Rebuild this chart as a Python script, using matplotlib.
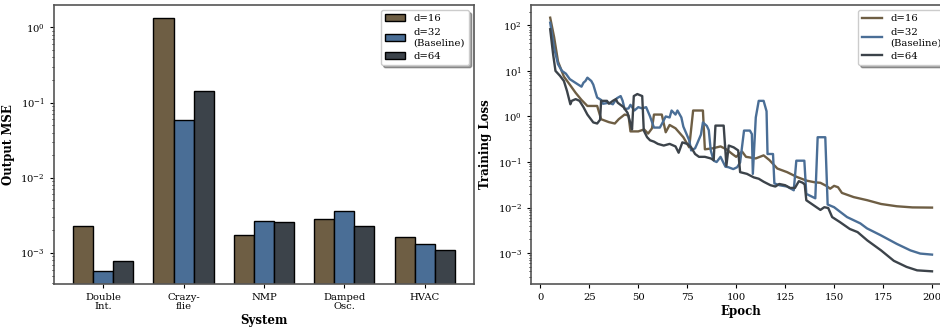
import numpy as np
import matplotlib

matplotlib.use("Agg")
import matplotlib.pyplot as plt

plt.rcParams["font.family"] = ["DejaVu Serif"]
plt.rcParams["mathtext.fontset"] = "dejavuserif"

# ---- left panel: output MSE per system ----
systems = ["Double\nInt.", "Crazy-\nflie", "NMP", "Damped\nOsc.", "HVAC"]
mse_d16 = [2.3e-3, 1.35, 1.72e-3, 2.83e-3, 1.63e-3]
mse_d32 = [5.7e-4, 0.058, 2.64e-3, 3.58e-3, 1.31e-3]
mse_d64 = [7.8e-4, 0.141, 2.56e-3, 2.26e-3, 1.09e-3]

# ---- right panel: training loss curves ----
ep_d16 = [5, 7, 9, 12, 15, 18, 21, 24, 29, 31, 35, 38, 40, 43, 45, 46, 50, 53,
          55, 57, 58, 62, 64, 66, 69, 73, 76, 78, 83, 84, 88, 92, 95, 98, 100,
          103, 105, 110, 114, 117, 121, 126, 131, 136, 140, 143, 146, 148, 150,
          152, 154, 160, 167, 174, 182, 190, 200]
loss_d16 = [147, 55, 16, 7.5, 5.0, 3.3, 2.3, 1.7, 1.7, 0.87, 0.75, 0.70, 0.87,
            1.1, 1.05, 0.47, 0.47, 0.52, 0.42, 0.55, 1.1, 1.1, 0.45, 0.65,
            0.55, 0.35, 0.21, 1.35, 1.35, 0.19, 0.20, 0.22, 0.19, 0.15, 0.13,
            0.17, 0.13, 0.12, 0.14, 0.11, 0.072, 0.060, 0.047, 0.039, 0.036,
            0.035, 0.030, 0.026, 0.030, 0.028, 0.021, 0.017, 0.0145, 0.0120,
            0.0107, 0.0101, 0.0100]

ep_d32 = [5, 7, 9, 11, 13, 15, 17, 19, 21, 22, 23, 24, 26, 27, 28, 29, 31, 32,
          35, 37, 39, 41, 42, 43, 45, 46, 48, 50, 52, 54, 56, 58, 61, 62, 64,
          66, 67, 69, 70, 72, 73, 76, 77, 79, 80, 82, 83, 85, 86, 87, 88.5, 90,
          92, 94.5, 96, 98.5, 100.5, 102, 104, 107, 108, 108.5, 110, 111.5,
          114, 115.5, 116, 118.8, 119.5, 122, 126, 129.4, 130.7, 134.8, 135.8,
          140.4, 141.6, 145.5, 146.7, 150, 156.6, 163.4, 166.8, 173.6, 182,
          189, 194, 200]
loss_d32 = [114, 32, 14, 10, 8.7, 6.6, 5.8, 5.1, 4.5, 5.5, 6.0, 7.1, 6.0, 5.0,
            3.6, 2.6, 2.3, 1.9, 2.0, 1.85, 2.5, 2.8, 2.2, 1.45, 1.5, 1.8, 1.35,
            1.6, 1.5, 1.6, 1.0, 0.57, 0.57, 0.68, 1.0, 0.95, 1.35, 1.1, 1.35,
            0.95, 0.6, 0.3, 0.18, 0.2, 0.25, 0.40, 0.74, 0.62, 0.5, 0.18,
            0.107, 0.10, 0.13, 0.079, 0.077, 0.070, 0.077, 0.098, 0.49, 0.49,
            0.41, 0.055, 0.95, 2.2, 2.2, 1.3, 0.15, 0.15, 0.034, 0.031, 0.029,
            0.024, 0.107, 0.107, 0.020, 0.016, 0.35, 0.35, 0.0117, 0.0102,
            0.0062, 0.0045, 0.0035, 0.0025, 0.0016, 0.00115, 0.00098, 0.00093]

ep_d64 = [5, 6.5, 7.7, 10, 12, 13.6, 15.3, 16, 18, 20, 22, 24, 27, 29, 30.5,
          31, 34, 35, 37, 38.5, 39.5, 42.5, 44.5, 46, 46.8, 47.7, 49.5, 52,
          52.8, 54.5, 56, 58, 60, 63, 66, 69, 70.6, 72.5, 75, 77, 79, 81, 84,
          87, 88.5, 89.4, 93.6, 95, 96.2, 98.7, 101, 102, 105.5, 109, 111.5,
          114, 117.5, 120, 122, 125, 127.5, 130, 132, 134, 135, 135.8, 139.6,
          143, 145, 147, 149, 153, 158, 162, 167, 174, 180.5, 187, 192.4, 200]
loss_d64 = [82, 23, 10, 7.8, 6.0, 3.6, 1.85, 2.2, 2.4, 2.2, 1.6, 1.1, 0.74,
            0.70, 0.85, 2.2, 2.2, 1.9, 2.2, 2.4, 2.0, 1.6, 1.2, 0.7, 0.52, 2.8,
            3.1, 2.8, 0.49, 0.35, 0.30, 0.28, 0.25, 0.23, 0.25, 0.22, 0.16,
            0.27, 0.25, 0.21, 0.15, 0.13, 0.13, 0.12, 0.11, 0.63, 0.63, 0.083,
            0.23, 0.21, 0.18, 0.060, 0.055, 0.046, 0.043, 0.037, 0.031, 0.029,
            0.033, 0.031, 0.027, 0.027, 0.038, 0.035, 0.032, 0.0145, 0.0112,
            0.0089, 0.0102, 0.0098, 0.0062, 0.0048, 0.0034, 0.0029, 0.0019,
            0.00115, 0.00068, 0.0005, 0.00042, 0.0004]

labels = ["d=16", "d=32\n(Baseline)", "d=64"]
colors = ["#6e5e44", "#4a6e96", "#3c434a"]

fig = plt.figure(figsize=(9.4, 3.29), dpi=100)
ax1 = fig.add_axes([0.0574, 0.1368, 0.4468, 0.848])
ax2 = fig.add_axes([0.5650, 0.1368, 0.4468, 0.848])

# bars
x = np.arange(len(systems))
w = 0.25
for i, vals in enumerate([mse_d16, mse_d32, mse_d64]):
    ax1.bar(x + (i - 1) * w, vals, w, color=colors[i], edgecolor="black",
            linewidth=1.0, label=labels[i])
ax1.set_yscale("log")
ax1.set_xticks(x)
ax1.set_xticklabels(systems, fontsize=7.2, linespacing=1.0)
ax1.set_xlabel("System", fontsize=8.5, fontweight="bold", labelpad=2)
ax1.set_ylabel("Output MSE", fontsize=8.5, fontweight="bold")
ax1.legend(loc="upper right", fontsize=7.3, shadow=True, framealpha=1,
           edgecolor="#cccccc", labelspacing=0.45)

# curves
for ep, loss, c, lab in zip([ep_d16, ep_d32, ep_d64],
                            [loss_d16, loss_d32, loss_d64], colors, labels):
    ax2.plot(ep, loss, color=c, linewidth=1.7, label=lab)
ax2.set_yscale("log")
ax2.set_xticks(np.arange(0, 201, 25))
ax2.set_xlabel("Epoch", fontsize=8.5, fontweight="bold", labelpad=2)
ax2.set_ylabel("Training Loss", fontsize=8.5, fontweight="bold")
ax2.legend(loc="upper right", fontsize=7.3, shadow=True, framealpha=1,
           edgecolor="#cccccc", labelspacing=0.45)

for ax in (ax1, ax2):
    ax.tick_params(labelsize=7.2, length=3)
    ax.tick_params(which="minor", length=1.5)
    for s in ax.spines.values():
        s.set_color("#555555")
        s.set_linewidth(1.2)

fig.savefig("out.png", dpi=100)
